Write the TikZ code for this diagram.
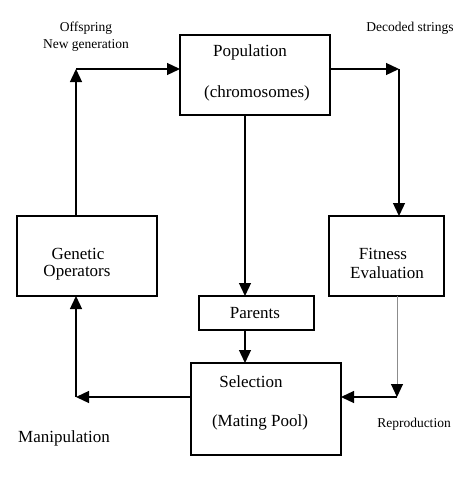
\documentclass[tikz,border=0pt]{standalone}
\usepackage{fontspec}
\setmainfont{Liberation Serif}
\usetikzlibrary{arrows.meta}
\begin{document}
\begin{tikzpicture}[x=1pt,y=-1pt,
  box/.style={draw, line width=1.3pt, inner sep=0pt, outer sep=0pt},
  big/.style={inner sep=0pt, font=\fontsize{17}{20}\selectfont},
  small/.style={inner sep=0pt, align=center, font=\fontsize{13.5}{17}\selectfont},
  arr/.style={line width=1.3pt, -{Triangle[length=13pt,width=12pt]}},
  garr/.style={line width=1pt, draw=black!45, -{Triangle[length=13pt,width=12pt,fill=black,color=black]}}]
\useasboundingbox[fill=white] (0,0) rectangle (474,482);
% boxes
\node[box, minimum width=150pt, minimum height=80pt] (pop) at (255,75) {};
\node[box, minimum width=140pt, minimum height=80pt] (go) at (87,256) {};
\node[box, minimum width=115pt, minimum height=80pt] (fit) at (386.5,256) {};
\node[box, minimum width=115pt, minimum height=34pt] (par) at (256.5,313) {};
\node[box, minimum width=150pt, minimum height=92pt] (sel) at (266,409) {};
% box texts
\node[big] (t1) at (250,52) {Population};
\node[big] (t2) at (257,93) {(chromosomes)};
\node[big] (t3) at (78,254) {Genetic};
\node[big] (t4) at (77,273) {Operators};
\node[big] (t5) at (383,254) {Fitness};
\node[big] (t6) at (387,273) {Evaluation};
\node[big] (t7) at (255,313) {Parents};
\node[big] (t8) at (251,382) {Selection};
\node[big] (t9) at (260,422) {(Mating Pool)};
% labels
\node[small] (l1) at (86,37) {Offspring\\New generation};
\node[small] (l2) at (410,28) {Decoded strings};
\node[big] (l3) at (64,438) {Manipulation};
\node[small] (l4) at (414,424) {Reproduction};
% corners
\coordinate (c1) at (76,69);
\coordinate (c2) at (399,69);
\coordinate (c3) at (76,397);
\coordinate (c4) at (397,397);
% connectors
\draw[arr] (go.north -| c1) -- (c1);
\draw[arr] (c1) -- (pop.west |- c1);
\draw[arr] (pop.east |- c2) -- (c2);
\draw[arr] (c2) -- (fit.north -| c2);
\draw[arr] (pop.south -| 245,0) -- (par.north -| 245,0);
\draw[arr] (par.south -| 245,0) -- (sel.north -| 245,0);
\draw[arr] (sel.west |- c3) -- (c3);
\draw[arr] (c3) -- (go.south -| c3);
\draw[garr] (fit.south -| c4) -- (c4);
\draw[arr] (c4) -- (sel.east |- c4);
\end{tikzpicture}
\end{document}
